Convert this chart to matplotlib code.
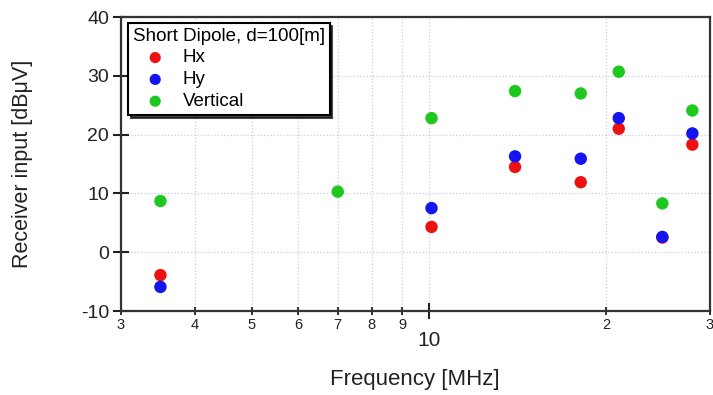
import matplotlib
matplotlib.use("Agg")
import matplotlib.pyplot as plt
from matplotlib.ticker import FixedLocator, FixedFormatter

plt.rcParams['font.family'] = ['Liberation Sans', 'DejaVu Sans']

freq_h = [3.5, 10.1, 14.0, 18.1, 21.0, 24.9, 28.0]
hx = [-3.9, 4.3, 14.5, 11.9, 21.0, 2.5, 18.3]
hy = [-5.9, 7.5, 16.3, 15.9, 22.8, 2.6, 20.2]
freq_v = [3.5, 7.0, 10.1, 14.0, 18.1, 21.0, 24.9, 28.0]
vert = [8.7, 10.3, 22.8, 27.4, 27.0, 30.7, 8.3, 24.1]

major_ticks = [10]
major_labels = ["10"]
minor_ticks = [3, 4, 5, 6, 7, 8, 9, 20, 30]
minor_labels = ["3", "4", "5", "6", "7", "8", "9", "2", "3"]
y_ticks = [-10, 0, 10, 20, 30, 40]

fig = plt.figure(figsize=(7.13, 3.95), dpi=100)
ax = fig.add_axes([121/713, 1-311/395, 589/713, 294/395])

ms = 80
ax.scatter(freq_h, hx, s=ms, color='#ee1111', label='Hx', zorder=3, edgecolors='none')
ax.scatter(freq_h, hy, s=ms, color='#1414ee', label='Hy', zorder=3, edgecolors='none')
ax.scatter(freq_v, vert, s=ms, color='#1ec81e', label='Vertical', zorder=3, edgecolors='none')

ax.set_xscale('log')
ax.set_xlim(3, 30)
ax.set_ylim(-10, 40)

ax.xaxis.set_major_locator(FixedLocator(major_ticks))
ax.xaxis.set_major_formatter(FixedFormatter(major_labels))
ax.xaxis.set_minor_locator(FixedLocator(minor_ticks))
ax.xaxis.set_minor_formatter(FixedFormatter(minor_labels))
ax.set_yticks(y_ticks)
ax.set_yticklabels([str(v) for v in y_ticks])

ax.tick_params(axis='x', which='major', direction='inout', length=11, width=1.5,
               labelsize=15, pad=9, top=False, colors='#222222')
ax.tick_params(axis='x', which='minor', direction='inout', length=6, width=1.3,
               labelsize=10.5, pad=2, top=False, colors='#222222')
ax.tick_params(axis='y', which='major', direction='inout', length=11, width=1.5,
               labelsize=14, pad=3, right=False, colors='#222222')

ax.grid(True, which='both', color='#c8c8f4', linestyle=':', linewidth=0.9)
ax.set_axisbelow(True)

for s in ax.spines.values():
    s.set_linewidth(1.6)
    s.set_color('#333333')

ax.set_xlabel('Frequency [MHz]', fontsize=16, color='#222222')
ax.set_ylabel('Receiver input [dBμV]', fontsize=15.5, color='#222222')
ax.xaxis.set_label_coords((415-121)/589, (311-369)/294)
ax.yaxis.set_label_coords((33-121)/589, 0.5)

leg = ax.legend(title='Short Dipole, d=100[m]', loc='upper left',
                bbox_to_anchor=((128-121)/589, 1-(23-17)/294), borderaxespad=0,
                fontsize=13.5, title_fontsize=13.5, fancybox=False, framealpha=1,
                edgecolor='black', handlelength=2.4, handletextpad=0.28,
                borderpad=0.25, labelspacing=0.25, alignment='left',
                markerscale=0.9, shadow={'color': 'black', 'alpha': 0.7})
leg.get_frame().set_linewidth(1.5)

fig.savefig('out.png', dpi=100)
